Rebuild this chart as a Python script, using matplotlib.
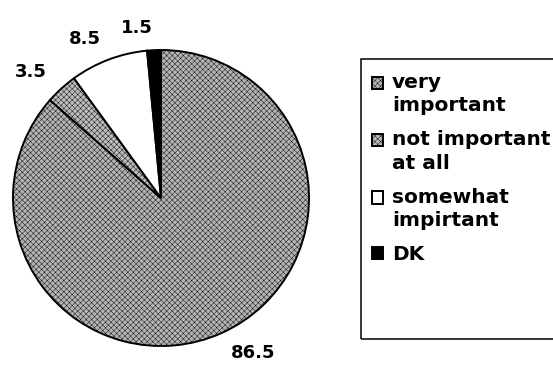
import matplotlib
matplotlib.use("Agg")
import matplotlib.pyplot as plt
from matplotlib.patches import Rectangle
from matplotlib.legend_handler import HandlerPatch

# 응답 분포 (%)
labels = ["very\nimportant", "not important\nat all", "somewhat\nimpirtant", "DK"]
values = [86.5, 3.5, 8.5, 1.5]
value_text = ["86.5", "3.5", "8.5", "1.5"]
colors = ["#b4b4b4", "#bcbcbc", "white", "black"]
hatches = ["xxxxxx", "xxxxxx", None, None]

plt.rcParams["hatch.linewidth"] = 0.3

fig = plt.figure(figsize=(5.53, 3.65), dpi=100)

# 파이 위치: 중심 (161, 198) px, 반지름 148 px
W, H = 553, 365
ax = fig.add_axes([13 / W, 19 / H, 296 / W, 296 / H])

wedges, texts = ax.pie(values, labels=value_text, colors=colors,
                       startangle=90, counterclock=False,
                       labeldistance=1.15,
                       wedgeprops=dict(edgecolor="black", linewidth=1.4),
                       textprops=dict(fontsize=13, fontweight="bold"))
for w, h in zip(wedges, hatches):
    if h:
        w.set_hatch(h)
ax.set_xlim(-1, 1)
ax.set_ylim(-1, 1)
ax.set_aspect("equal")

nlines = {w: lab.count("\n") + 1 for w, lab in zip(wedges, labels)}
line_step = 16.6  # pt


# 범례 - 네모를 첫 줄에 맞춤
def square(legend, orig_handle, xdescent, ydescent, width, height, fontsize):
    dy = (nlines[orig_handle] - 1) * line_step / 2
    return Rectangle((-xdescent, -ydescent + dy), width, height)


leg = fig.legend(wedges, labels, loc="upper left",
                 bbox_to_anchor=(372 / W, 1 - 73 / H),
                 frameon=False, prop=dict(size=14.5, weight="bold"),
                 handlelength=0.55, handleheight=0.55, handletextpad=0.45,
                 labelspacing=0.75, borderaxespad=0, borderpad=0,
                 handler_map={w: HandlerPatch(patch_func=square) for w in wedges})
for t in leg.get_texts():
    t.set_linespacing(1.28)

# 범례 테두리
fig.add_artist(Rectangle((361 / W, 1 - 339 / H), 200 / W, 280 / H,
                         transform=fig.transFigure, fill=False,
                         edgecolor="black", linewidth=1.1))

fig.savefig("out.png", dpi=100)
